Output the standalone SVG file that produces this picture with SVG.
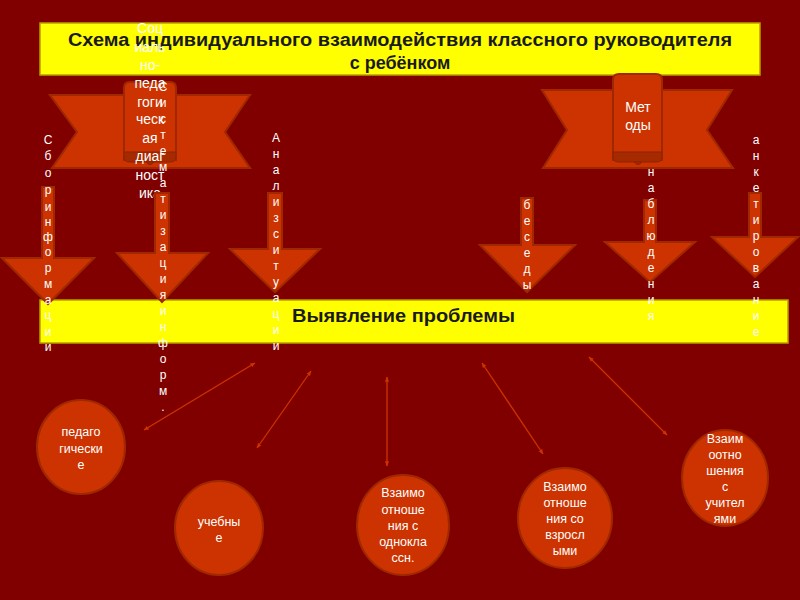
<svg xmlns="http://www.w3.org/2000/svg" width="800" height="600" viewBox="0 0 800 600">
<style>
.bar{fill:#FFFF00;stroke:#B8A000;stroke-width:1.5}
.title{font-family:"Liberation Sans",Arial,sans-serif;font-weight:bold;font-size:18px;fill:#1a1a1a}
.shape{fill:#CC3300;stroke:#A02800;stroke-width:2}
.roll{fill:#A52A00;stroke:#8E2200;stroke-width:1}
.w{font-family:"Liberation Sans",Arial,sans-serif;fill:#FFFFFF}
.s14{font-size:14px}
.s12{font-size:12px}
.s13{font-size:12.5px}
.conn{stroke:#CC3300;stroke-width:1.3;fill:none;marker-start:url(#ah);marker-end:url(#ah)}
</style>
<defs>
<marker id="ah" viewBox="0 0 10 10" refX="9" refY="5" markerWidth="4" markerHeight="4" orient="auto-start-reverse" markerUnits="strokeWidth">
<path d="M0,1 L10,5 L0,9 z" fill="#CC3300"/>
</marker>
</defs>
<rect x="0" y="0" width="800" height="600" fill="#800000"/>

<g id="title">
<rect class="bar" x="40" y="23" width="720" height="52"/>
<text class="title" x="68" y="46" textLength="664" lengthAdjust="spacingAndGlyphs">Схема индивидуального взаимодействия классного руководителя</text>
<text class="title" x="400" y="69" text-anchor="middle">с ребёнком</text>
</g>

<g id="problem">
<rect class="bar" x="40" y="300" width="748" height="43"/>
<text class="title" x="292" y="322" textLength="223" lengthAdjust="spacingAndGlyphs">Выявление проблемы</text>
</g>

<g id="diag">
<polygon class="shape" points="50,95 250,95 225,132 250,168 52,168 77,132"/>
<path class="shape" d="M130,82 H170 Q176,82 176,88 V160 H124 V88 Q124,82 130,82 Z"/>
<path class="roll" d="M124,152 H176 V157 Q176,162 170,162 H130 Q124,162 124,157 Z"/>
<path class="roll" d="M146,162 Q150,167 154,162 Z"/>
<g class="w s14" text-anchor="middle">
<text x="150" y="33">Соц</text>
<text x="150" y="52">иаль</text>
<text x="150" y="70">но-</text>
<text x="150" y="88">педа</text>
<text x="150" y="107">гоги</text>
<text x="150" y="124">ческ</text>
<text x="150" y="143">ая</text>
<text x="150" y="161">диаг</text>
<text x="150" y="180">ност</text>
<text x="150" y="198">ика</text>
</g>
</g>

<g id="methods">
<polygon class="shape" points="542,90 732,90 707,130 733,168 543,168 567,130"/>
<path class="shape" d="M619,74 H656 Q662,74 662,80 V160 H613 V80 Q613,74 619,74 Z"/>
<path class="roll" d="M613,152 H662 V157 Q662,162 656,162 H619 Q613,162 613,157 Z"/>
<path class="roll" d="M634,162 Q638,167 642,162 Z"/>
<g class="w s14" text-anchor="middle">
<text x="638" y="112">Мет</text>
<text x="638" y="130">оды</text>
</g>
</g>

<g id="arrow-sbor">
<polygon class="shape" points="42,187 54,187 54,258 94,258 48,304 2,258 42,258"/>
<text class="w s12" text-anchor="middle"><tspan x="48" y="144">С</tspan><tspan x="48" y="160">б</tspan><tspan x="48" y="177">о</tspan><tspan x="48" y="194">р</tspan><tspan x="48" y="211">и</tspan><tspan x="48" y="226">н</tspan><tspan x="48" y="241">ф</tspan><tspan x="48" y="256">о</tspan><tspan x="48" y="272">р</tspan><tspan x="48" y="288">м</tspan><tspan x="48" y="304">а</tspan><tspan x="48" y="319">ц</tspan><tspan x="48" y="336">и</tspan><tspan x="48" y="351">и</tspan></text>
</g>

<g id="arrow-sistem">
<polygon class="shape" points="155,193 169,193 169,253 208,253 162,302 117,253 155,253"/>
<text class="w s12" text-anchor="middle"><tspan x="163" y="91">С</tspan><tspan x="163" y="107">и</tspan><tspan x="163" y="123">с</tspan><tspan x="163" y="139">т</tspan><tspan x="163" y="155">е</tspan><tspan x="163" y="171">м</tspan><tspan x="163" y="187">а</tspan><tspan x="163" y="203">т</tspan><tspan x="163" y="219">и</tspan><tspan x="163" y="235">з</tspan><tspan x="163" y="251">а</tspan><tspan x="163" y="267">ц</tspan><tspan x="163" y="283">и</tspan><tspan x="163" y="299">я</tspan><tspan x="163" y="315">и</tspan><tspan x="163" y="331">н</tspan><tspan x="163" y="347">ф</tspan><tspan x="163" y="363">о</tspan><tspan x="163" y="379">р</tspan><tspan x="163" y="395">м</tspan><tspan x="163" y="411">.</tspan></text>
</g>

<g id="arrow-analiz">
<polygon class="shape" points="268,193 282,193 282,249 320,249 275,292 230,249 268,249"/>
<text class="w s12" text-anchor="middle"><tspan x="276" y="142">А</tspan><tspan x="276" y="158">н</tspan><tspan x="276" y="174">а</tspan><tspan x="276" y="190">л</tspan><tspan x="276" y="206">и</tspan><tspan x="276" y="222">з</tspan><tspan x="276" y="238">с</tspan><tspan x="276" y="254">и</tspan><tspan x="276" y="270">т</tspan><tspan x="276" y="286">у</tspan><tspan x="276" y="302">а</tspan><tspan x="276" y="318">ц</tspan><tspan x="276" y="334">и</tspan><tspan x="276" y="350">и</tspan></text>
</g>

<g id="arrow-besedy">
<polygon class="shape" points="521,198 533,198 533,245 575,245 527,292 480,245 521,245"/>
<text class="w s12" text-anchor="middle"><tspan x="527" y="209">б</tspan><tspan x="527" y="225">е</tspan><tspan x="527" y="241">с</tspan><tspan x="527" y="257">е</tspan><tspan x="527" y="273">д</tspan><tspan x="527" y="289">ы</tspan></text>
</g>

<g id="arrow-nabl">
<polygon class="shape" points="644,200 656,200 656,242 695,242 650,282 605,242 644,242"/>
<text class="w s12" text-anchor="middle"><tspan x="651" y="176">н</tspan><tspan x="651" y="192">а</tspan><tspan x="651" y="208">б</tspan><tspan x="651" y="224">л</tspan><tspan x="651" y="240">ю</tspan><tspan x="651" y="256">д</tspan><tspan x="651" y="272">е</tspan><tspan x="651" y="288">н</tspan><tspan x="651" y="304">и</tspan><tspan x="651" y="320">я</tspan></text>
</g>

<g id="arrow-anket">
<polygon class="shape" points="749,193 761,193 761,237 798,237 755,277 712,237 749,237"/>
<text class="w s12" text-anchor="middle"><tspan x="756" y="144">а</tspan><tspan x="756" y="160">н</tspan><tspan x="756" y="176">к</tspan><tspan x="756" y="192">е</tspan><tspan x="756" y="208">т</tspan><tspan x="756" y="224">и</tspan><tspan x="756" y="240">р</tspan><tspan x="756" y="256">о</tspan><tspan x="756" y="272">в</tspan><tspan x="756" y="288">а</tspan><tspan x="756" y="304">н</tspan><tspan x="756" y="320">и</tspan><tspan x="756" y="336">е</tspan></text>
</g>

<g id="connectors">
<line class="conn" x1="255" y1="363" x2="144" y2="430"/>
<line class="conn" x1="311" y1="371" x2="257" y2="448"/>
<line class="conn" x1="387" y1="377" x2="387" y2="466"/>
<line class="conn" x1="482" y1="363" x2="543" y2="454"/>
<line class="conn" x1="589" y1="357" x2="667" y2="435"/>
</g>

<g id="ped">
<ellipse class="shape" cx="81" cy="447" rx="44" ry="47"/>
<g class="w s13" text-anchor="middle"><text x="81" y="436">педаго</text><text x="81" y="453">гически</text><text x="81" y="469">е</text></g>
</g>

<g id="ucheb">
<ellipse class="shape" cx="219" cy="528" rx="44" ry="47"/>
<g class="w s13" text-anchor="middle"><text x="219" y="526">учебны</text><text x="219" y="542">е</text></g>
</g>

<g id="odnokl">
<ellipse class="shape" cx="403" cy="525" rx="46" ry="50"/>
<g class="w s13" text-anchor="middle"><text x="403" y="497">Взаимо</text><text x="403" y="514">отноше</text><text x="403" y="530">ния с</text><text x="403" y="546">однокла</text><text x="403" y="562">ссн.</text></g>
</g>

<g id="vzrosl">
<ellipse class="shape" cx="565" cy="518" rx="47" ry="50"/>
<g class="w s13" text-anchor="middle"><text x="565" y="491">Взаимо</text><text x="565" y="507">отноше</text><text x="565" y="523">ния со</text><text x="565" y="539">взросл</text><text x="565" y="555">ыми</text></g>
</g>

<g id="uchit">
<ellipse class="shape" cx="725" cy="478" rx="43" ry="48"/>
<g class="w s13" text-anchor="middle"><text x="725" y="443">Взаим</text><text x="725" y="459">оотно</text><text x="725" y="475">шения</text><text x="725" y="491">с</text><text x="725" y="507">учител</text><text x="725" y="523">ями</text></g>
</g>
</svg>
